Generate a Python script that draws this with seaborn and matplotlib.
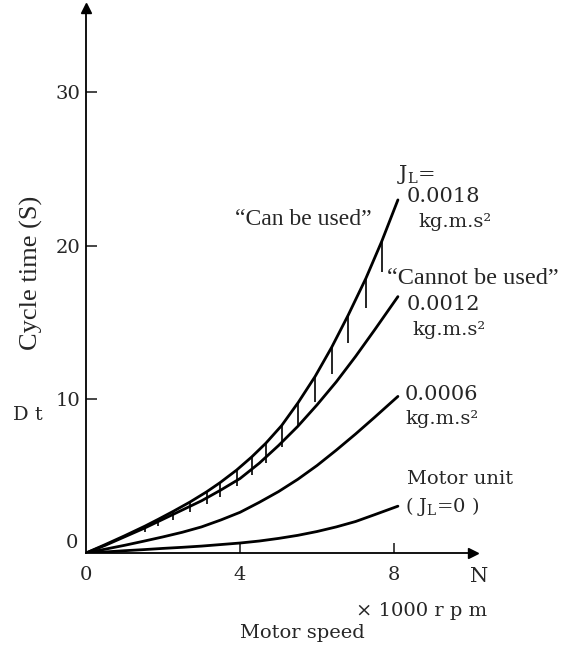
import seaborn as sns
import matplotlib.pyplot as plt
import pandas as pd

# Leituras do gráfico (x em 1000 rpm, y em segundos)
speed_018 = [0, 0.5, 1.0, 1.53, 1.88, 2.27, 2.70, 3.13, 3.48, 3.91, 4.30, 4.67, 5.08,
             5.51, 5.95, 6.38, 6.81, 7.27, 7.68, 8.1]
time_018 = [0, 0.55, 1.12, 1.75, 2.2, 2.72, 3.32, 3.98, 4.58, 5.4, 6.25, 7.15, 8.3,
            9.8, 11.5, 13.4, 15.5, 17.9, 20.3, 23.0]

speed = [0, 0.5, 1, 1.5, 2, 2.5, 3, 3.5, 4, 4.5, 5, 5.5, 6, 6.5, 7, 7.5, 8.1]
time_012 = [0, 0.5, 1.05, 1.6, 2.2, 2.8, 3.4, 4.1, 4.85, 5.85, 7.0, 8.25, 9.65, 11.15,
            12.8, 14.55, 16.7]
time_006 = [0, 0.25, 0.5, 0.77, 1.05, 1.35, 1.7, 2.15, 2.65, 3.3, 4.0, 4.8, 5.7, 6.7,
            7.75, 8.85, 10.2]
time_motor = [0, 0.07, 0.15, 0.22, 0.3, 0.37, 0.45, 0.55, 0.65, 0.78, 0.95, 1.15, 1.4,
              1.7, 2.05, 2.5, 3.05]

# tracinhos "Cannot be used" pendurados na curva de 0.0018
hatch_x = speed_018[3:19]
hatch_top = time_018[3:19]
hatch_len = [0.35, 0.45, 0.55, 0.65, 0.8, 0.95, 1.05, 1.15, 1.3, 1.4, 1.55, 1.65,
             1.75, 1.85, 1.95, 2.0]

y_ticks = [10, 20, 30]
x_ticks = [0, 4, 8]

sns.set_style("white")
plt.rcParams["font.family"] = ["DejaVu Serif"]
plt.rcParams["mathtext.fontset"] = "dejavuserif"

fig = plt.figure(figsize=(5.64, 6.48), dpi=100)
ax = fig.add_axes([86 / 564, 95 / 648, 387 / 564, 545 / 648])

curves = pd.concat([
    pd.DataFrame({"N": speed_018, "Dt": time_018, "JL": "0.0018"}),
    pd.DataFrame({"N": speed, "Dt": time_012, "JL": "0.0012"}),
    pd.DataFrame({"N": speed, "Dt": time_006, "JL": "0.0006"}),
    pd.DataFrame({"N": speed, "Dt": time_motor, "JL": "0"}),
])
sns.lineplot(data=curves, x="N", y="Dt", units="JL", estimator=None, color="black",
             linewidth=2.0, sort=True, ax=ax, legend=False)

hatch_bottom = [t - l for t, l in zip(hatch_top, hatch_len)]
ax.vlines(hatch_x, hatch_bottom, hatch_top, color="black", linewidth=1.2)

ax.set_xlim(0, 10.05)
ax.set_ylim(0, 35.5)
for s in ["top", "right"]:
    ax.spines[s].set_visible(False)
for s in ["left", "bottom"]:
    ax.spines[s].set_color("black")
    ax.spines[s].set_linewidth(1.3)

ax.plot(1, 0, ">k", markersize=7, transform=ax.get_yaxis_transform(), clip_on=False)
ax.plot(0, 1, "^k", markersize=7, transform=ax.get_xaxis_transform(), clip_on=False)

ax.set_yticks(y_ticks)
ax.set_yticklabels([str(v) for v in y_ticks])
ax.set_xticks(x_ticks)
ax.set_xticklabels([str(v) for v in x_ticks])
ax.tick_params(axis="y", direction="in", length=8, width=1.2, pad=4, labelsize=14,
               left=True)
ax.tick_params(axis="x", direction="in", length=7, width=1.2, pad=9, labelsize=14,
               bottom=True)
ax.xaxis.get_major_ticks()[0].tick1line.set_visible(False)
ax.set_xlabel("")
ax.set_ylabel("")


def ftext(x, y, s, **kw):
    fig.text(x / 564, 1 - y / 648, s, va="center", **kw)


times = ["Liberation Serif"]
ftext(72, 543, "0", ha="center", fontsize=14)
ftext(31, 273, "Cycle time (S)", ha="center", rotation=90, fontsize=19, family=times)
ftext(28, 415, "D t", ha="center", fontsize=14)
ftext(479, 576, "N", ha="center", fontsize=15)
ftext(356, 611, "× 1000 r p m", ha="left", fontsize=14)
ftext(240, 633, "Motor speed", ha="left", fontsize=14)

ftext(235, 220, "\u201cCan be used\u201d", ha="left", fontsize=17, family=times)
ftext(387, 278, "\u201cCannot be used\u201d", ha="left", fontsize=17.5, family=times)
ftext(397, 174, r"J$_{\rm L}$=", ha="left", fontsize=15)
ftext(407, 196, "0.0018", ha="left", fontsize=15)
ftext(418, 222, "kg.m.s²", ha="left", fontsize=14)
ftext(407, 305, "0.0012", ha="left", fontsize=15)
ftext(412, 330, "kg.m.s²", ha="left", fontsize=14)
ftext(405, 394, "0.0006", ha="left", fontsize=15)
ftext(405, 419, "kg.m.s²", ha="left", fontsize=14)
ftext(407, 479, "Motor unit", ha="left", fontsize=14)
ftext(405, 506, r"( J$_{\rm L}$=0 )", ha="left", fontsize=14)

fig.savefig("out.png", dpi=100, facecolor="white")
